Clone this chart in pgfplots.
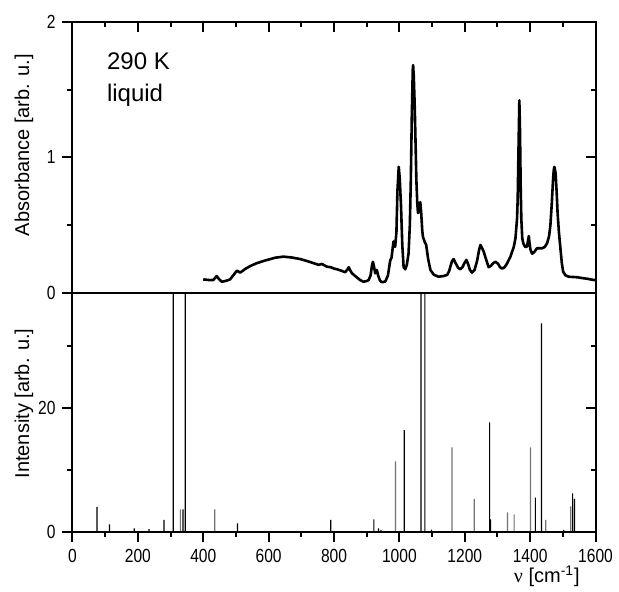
\documentclass[border=0pt]{standalone}
\usepackage{fontspec}
\setmainfont{Liberation Sans}
\newfontfamily\tickfont{Liberation Sans}[FakeStretch=0.82]
\newfontfamily\serifgreek{Liberation Serif}
\usepackage{pgfplots}
\pgfplotsset{compat=1.18}
\begin{document}
\begin{tikzpicture}
\useasboundingbox (-36.25pt,-30.15pt) rectangle (273.25pt,265.85pt);
\pgfplotsset{
  base/.style={
    width=261.5pt, scale only axis,
    xmin=0, xmax=1600,
    axis line style={line width=1pt},
    tick style={line width=1pt, black},
    major tick length=5pt, minor tick length=2.5pt,
    tick label style={font=\tickfont\fontsize{9.5}{11}\selectfont},
    /pgf/number format/assume math mode=true,
    /pgf/number format/1000 sep={},
    xtick={0,200,...,1600}, minor x tick num=1,
  },
  nolabels/.style={xticklabels={}, yticklabels={}, tick label style={opacity=0}}
}
% ---------- top panel ----------
\begin{axis}[base, at={(0,119.35pt)}, height=135.65pt,
  ymin=0, ymax=2, ytick={0,1,2}, minor y tick num=1,
  xtick=\empty, ytick pos=left, tick align=outside,
  ylabel={Absorbance [arb. u.]},
  ylabel style={at={(axis description cs:-0.0927,0.545)}, anchor=center, font=\fontsize{10}{12}\selectfont},
  clip=false]
\addplot[black, line width=1.3pt, line join=round] coordinates {
(400,0.10) (420,0.095) (431,0.096) (441,0.125) (449,0.10) (457,0.083) (470,0.09)
(482,0.10) (495,0.14) (503,0.165) (513,0.15) (530,0.18) (545,0.20) (564,0.22)
(590,0.24) (620,0.26) (645,0.268) (670,0.262) (697,0.25) (725,0.23) (753,0.207)
(763,0.214) (778,0.194) (790,0.19) (800,0.18) (809,0.175) (822,0.165) (834,0.153)
(840,0.17) (845,0.19) (850,0.165) (855,0.145) (870,0.115) (880,0.095) (890,0.083)
(900,0.088) (906,0.096) (912,0.13) (916,0.20) (919,0.23) (922,0.20) (926,0.145)
(928,0.16) (931,0.17) (935,0.13) (940,0.095) (944,0.083) (950,0.08) (957,0.085)
(965,0.13) (972,0.24) (976,0.26) (980,0.34) (982,0.38) (987,0.34) (991,0.45)
(994,0.75) (998,0.93) (1001,0.85) (1005,0.64) (1009,0.35) (1013,0.19) (1018,0.175)
(1023,0.21) (1028,0.29) (1032,0.50) (1035,0.83) (1038,1.30) (1041,1.65) (1042,1.68)
(1044,1.60) (1047,1.37) (1050,1.05) (1052,0.83) (1055,0.65) (1057,0.59) (1060,0.60)
(1064,0.67) (1067,0.58) (1070,0.46) (1072,0.415) (1077,0.38) (1082,0.354) (1088,0.25)
(1095,0.17) (1105,0.135) (1120,0.12) (1135,0.125) (1146,0.133) (1152,0.16) (1156,0.194)
(1161,0.235) (1166,0.25) (1172,0.22) (1180,0.185) (1186,0.175) (1193,0.19) (1199,0.22)
(1205,0.244) (1210,0.215) (1216,0.17) (1222,0.15) (1230,0.17) (1238,0.24) (1244,0.32)
(1248,0.354) (1253,0.33) (1258,0.305) (1265,0.25) (1273,0.19) (1280,0.20) (1287,0.22)
(1294,0.23) (1302,0.215) (1308,0.19) (1314,0.18) (1322,0.19) (1330,0.22) (1340,0.27)
(1350,0.34) (1355,0.40) (1360,0.55) (1362,0.70) (1364,1.0) (1367,1.42) (1369,1.2)
(1371,0.80) (1373,0.55) (1376,0.40) (1380,0.36) (1385,0.34) (1390,0.34) (1394,0.39)
(1396,0.42) (1398,0.37) (1401,0.32) (1406,0.29) (1412,0.30) (1421,0.33) (1430,0.33)
(1437,0.33) (1445,0.34) (1452,0.367) (1458,0.42) (1462,0.50) (1466,0.65) (1470,0.83)
(1472,0.90) (1474,0.93) (1476,0.91) (1478,0.88) (1481,0.75) (1484,0.59) (1488,0.45)
(1493,0.32) (1497,0.22) (1501,0.157) (1508,0.13) (1518,0.12) (1530,0.118) (1544,0.116)
(1559,0.11) (1575,0.105) (1585,0.10) (1595,0.096) (1600,0.095)
};
\node[anchor=base west, font=\fontsize{12}{14}\selectfont] at (axis description cs:0.0526,0.823) {290 K};
\node[anchor=base west, font=\fontsize{12}{14}\selectfont] at (axis description cs:0.0526,0.705) {liquid};
\end{axis}
\begin{axis}[base, nolabels, at={(0,119.35pt)}, height=135.65pt,
  ymin=0, ymax=2, ytick={0,1,2}, minor y tick num=1,
  xtick pos=right, ytick pos=right, tick align=inside]
\end{axis}
% ---------- bottom panel ----------
\begin{axis}[base, at={(0,0)}, height=119.35pt,
  ymin=0, ymax=38.5, ytick={0,20,40}, minor y tick num=1,
  xtick pos=left, ytick pos=left, tick align=outside,
  ylabel={Intensity [arb. u.]},
  ylabel style={at={(axis description cs:-0.0927,0.537)}, anchor=center, font=\fontsize{10}{12}\selectfont},
  xlabel={{\serifgreek ν} [cm\textsuperscript{-1}]},
  xlabel style={at={(axis description cs:0.907,-0.1856)}, anchor=center, font=\fontsize{10}{12}\selectfont}]
\addplot[ybar, bar width=0.6pt, fill=black, draw=none] coordinates {
(75,4.0) (113,1.2) (189,0.55) (234,0.4) (280,1.9) (308,38.5) (338,3.6) (345,38.5)
(505,1.35) (790,1.9) (922,2.0) (936,0.55) (944,0.3) (1015,16.4) (1066,38.5) (1078,38.5)
(1098,0.35) (1276,17.65) (1279,2.0) (1416,5.5) (1435,33.6) (1503,0.3) (1530,6.2) (1536,5.3)
};
\addplot[ybar, bar width=0.6pt, fill=black!55, draw=none] coordinates {
(330,3.6) (435,3.6) (988,11.35) (1161,13.6) (1229,5.3) (1331,3.1) (1351,2.8)
(1401,13.6) (1448,1.9) (1524,4.1)
};
\end{axis}
\begin{axis}[base, nolabels, at={(0,0)}, height=119.35pt,
  ymin=0, ymax=38.5, ytick={0,20,40}, minor y tick num=1,
  xtick pos=right, ytick pos=right, tick align=inside,
  major x tick style={draw=none}, minor x tick style={draw=none}]
\end{axis}
\end{tikzpicture}
\end{document}
